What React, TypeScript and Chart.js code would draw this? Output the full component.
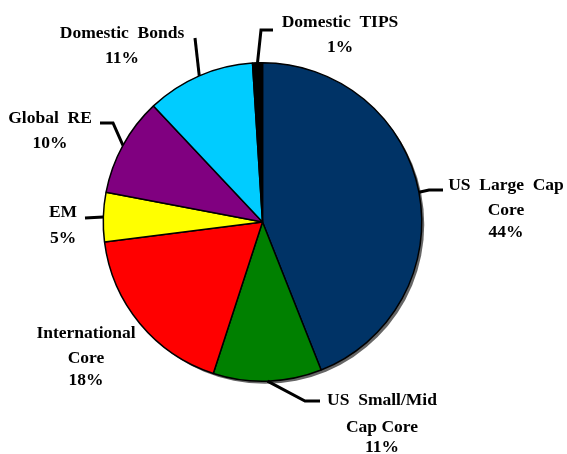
import React, { useEffect, useRef } from "react";
import { Chart, registerables } from "chart.js";

Chart.register(...registerables);

const categories = [
  "US Large Cap Core",
  "US Small/Mid Cap Core",
  "International Core",
  "EM",
  "Global RE",
  "Domestic Bonds",
  "Domestic TIPS",
];
const values = [44, 11, 18, 5, 10, 11, 1];
const percentLabels = ["44%", "11%", "18%", "5%", "10%", "11%", "1%"];
const labelLines = [
  ["US  Large  Cap", "Core"],
  ["US  Small/Mid", "Cap Core"],
  ["International", "Core"],
  ["EM"],
  ["Global  RE"],
  ["Domestic  Bonds"],
  ["Domestic  TIPS"],
];
const colors = ["#003366", "#008000", "#FF0000", "#FFFF00", "#800080", "#00CCFF", "#000000"];

// label layout: text center x, first-line y, line step; leader path after the arc edge point
const labelLayout = [
  { x: 506, y: 185, step: [25, 22], path: [[429, 190], [443, 190]] },
  { x: 382, y: 400, step: [27, 20], path: [[305, 401], [320, 401]] },
  { x: 86, y: 333, step: [25, 22], path: [] },
  { x: 63, y: 212, step: [26], path: [[85, 218]] },
  { x: 50, y: 118, step: [25], path: [[113, 123], [100, 123]] },
  { x: 122, y: 33, step: [25], path: [[195, 38]] },
  { x: 340, y: 22, step: [25], path: [[261, 30], [273, 30]] },
];

const shadowPlugin = {
  id: "pieShadow",
  beforeDatasetsDraw(chart: any) {
    const arc = chart.getDatasetMeta(0).data[0];
    if (!arc) return;
    const ctx = chart.ctx;
    ctx.save();
    ctx.fillStyle = "#666666";
    ctx.beginPath();
    ctx.arc(arc.x + 2.5, arc.y + 2.5, arc.outerRadius, 0, Math.PI * 2);
    ctx.fill();
    ctx.restore();
  },
};

const labelPlugin = {
  id: "pieLabels",
  afterDatasetsDraw(chart: any) {
    const ctx = chart.ctx;
    const meta = chart.getDatasetMeta(0);
    ctx.save();
    ctx.strokeStyle = "#000";
    ctx.lineWidth = 3;
    ctx.lineJoin = "miter";
    meta.data.forEach((arc: any, i: number) => {
      const lay = labelLayout[i];
      const mid = (arc.startAngle + arc.endAngle) / 2;
      const ex = arc.x + Math.cos(mid) * arc.outerRadius;
      const ey = arc.y + Math.sin(mid) * arc.outerRadius;
      if (lay.path.length) {
        ctx.beginPath();
        ctx.moveTo(ex, ey);
        lay.path.forEach((p) => ctx.lineTo(p[0], p[1]));
        ctx.stroke();
      }
      const lines = [...labelLines[i], percentLabels[i]];
      ctx.fillStyle = "#000";
      ctx.font = "bold 17.5px 'Liberation Serif', 'Times New Roman', serif";
      ctx.textAlign = "center";
      ctx.textBaseline = "middle";
      let y = lay.y;
      lines.forEach((t, j) => {
        ctx.fillText(t, lay.x, y);
        y += lay.step[j] ?? 24;
      });
    });
    ctx.restore();
  },
};

export default function App() {
  const ref = useRef<HTMLCanvasElement>(null);
  useEffect(() => {
    if (!ref.current) return;
    const chart = new Chart(ref.current, {
      type: "pie",
      data: {
        labels: categories,
        datasets: [
          {
            data: values,
            backgroundColor: colors,
            borderColor: "#000000",
            borderWidth: 1.5,
            borderAlign: "center",
          },
        ],
      },
      options: {
        animation: false,
        responsive: false,
        devicePixelRatio: 1,
        layout: { padding: { left: 102, right: 144, top: 62, bottom: 72 } },
        plugins: {
          legend: { display: false },
          tooltip: { enabled: false },
        },
      },
      plugins: [shadowPlugin, labelPlugin],
    });
    return () => chart.destroy();
  }, []);
  return (
    <div style={{ position: "fixed", left: 0, top: 0, width: 567, height: 454, background: "#fff" }}>
      <canvas ref={ref} width={567} height={454} />
    </div>
  );
}
